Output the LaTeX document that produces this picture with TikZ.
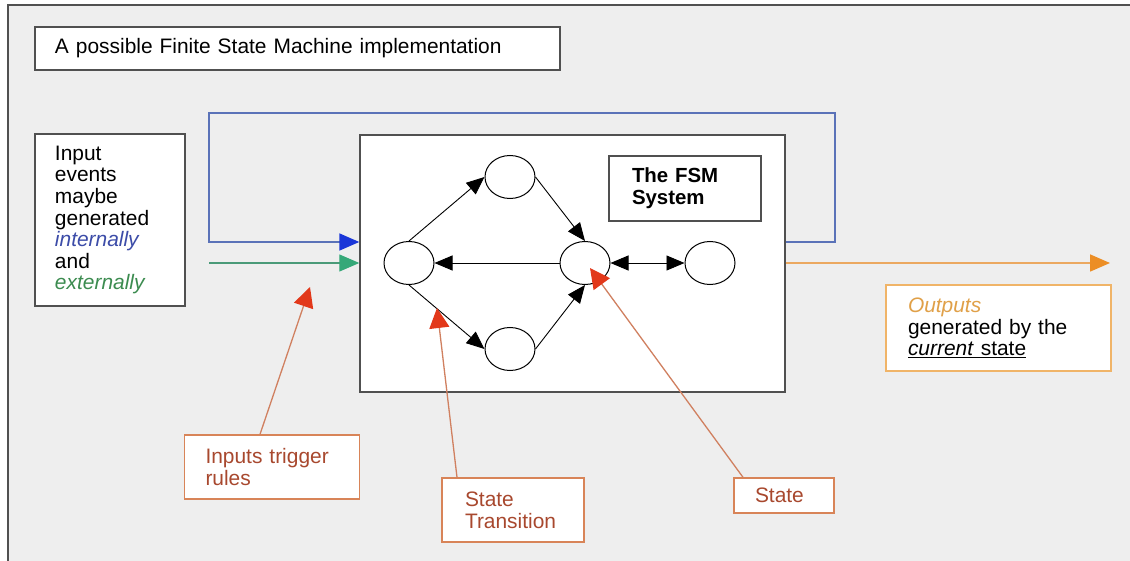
\documentclass[tikz,border=0pt]{standalone}
\usepackage{fontspec}
\setmainfont{Liberation Sans}
\usetikzlibrary{shapes.geometric,arrows.meta,calc}

\definecolor{panel}{HTML}{EEEEEE}
\definecolor{framegray}{HTML}{505050}
\definecolor{blueln}{HTML}{5A72B8}
\definecolor{bluetip}{HTML}{1A36D8}
\definecolor{greenln}{HTML}{4A9A78}
\definecolor{greentip}{HTML}{35A878}
\definecolor{orangeln}{HTML}{EBA860}
\definecolor{orangetip}{HTML}{EC8E25}
\definecolor{redln}{HTML}{D08060}
\definecolor{redtip}{HTML}{E2381A}
\definecolor{redtxt}{HTML}{A8482E}
\definecolor{redbox}{HTML}{D88458}
\definecolor{outbox}{HTML}{F0B468}
\definecolor{outtxt}{HTML}{E0A048}
\definecolor{inblue}{HTML}{3C4CA8}
\definecolor{ingreen}{HTML}{3C8C50}

\tikzset{
  txt/.style={font=\fontsize{21}{21.7}\selectfont},
  graybox/.style={draw=framegray, line width=1.4bp, fill=white, rectangle,
    inner ysep=0pt, align=left, txt},
  notebox/.style={draw=redbox, line width=1.4bp, fill=white, rectangle,
    inner ysep=0pt, align=left, text=redtxt, txt},
  state/.style={ellipse, draw=black, line width=1bp, fill=white,
    minimum width=50bp, minimum height=43bp, inner sep=0pt},
  trans/.style={draw=black, line width=0.9bp,
    -{Triangle[length=18bp,width=15bp]}},
  biarrow/.style={draw=black, line width=0.9bp,
    {Triangle[length=18bp,width=15bp]}-{Triangle[length=18bp,width=15bp]}},
  blueline/.style={draw=blueln, line width=1.6bp,
    -{Triangle[length=20bp,width=17bp,color=bluetip]}},
  greenline/.style={draw=greenln, line width=1.2bp,
    -{Triangle[length=20bp,width=17bp,color=greentip]}},
  orangeline/.style={draw=orangeln, line width=1.6bp,
    -{Triangle[length=20bp,width=17bp,color=orangetip]}},
  pointer/.style={draw=redln, line width=1.3bp,
    -{Triangle[length=20bp,width=20bp,color=redtip]}},
}

\begin{document}
\begin{tikzpicture}[x=1bp,y=-1bp]
  % page and panel
  \fill[white] (0,0) rectangle (1130,561);
  \fill[panel] (8,5) rectangle (1130,561);
  \useasboundingbox (0,0) rectangle (1130,561);
  \draw[framegray, line width=2.6bp] (8,561) -- (8,5) -- (1130,5);

  % heading
  \node[graybox, minimum width=525bp, minimum height=43bp, text width=485bp,
        inner xsep=20bp] (title) at (297.5,48.5)
        {A possible Finite State Machine implementation};

  % input description
  \node[graybox, minimum width=150bp, minimum height=172bp, text width=110bp,
        inner xsep=20bp] (inputs) at (110,220)
        {Input\\ events\\ maybe\\ generated\\
         \textcolor{inblue}{\textit{internally}}\\ and\\
         \textcolor{ingreen}{\textit{externally}}};

  % machine
  \node[graybox, minimum width=425bp, minimum height=257bp] (fsm) at (572.5,263.5) {};
  \node[graybox, minimum width=152bp, minimum height=65bp, text width=106bp,
        inner xsep=23bp, font=\bfseries\fontsize{20.5}{22}\selectfont]
        (fsmlabel) at (685,188.5) {The FSM\\ System};

  % output description
  \node[graybox, draw=outbox, minimum width=225bp, minimum height=86bp,
        text width=181bp, inner xsep=22bp] (outputs) at (998.5,328)
        {\textcolor{outtxt}{\textit{Outputs}}\\ generated by the\\
         \underline{\textit{current} state}};

  % helper positions
  \coordinate (inY) at (0,242);
  \coordinate (exY) at (0,263);
  \coordinate (loopNE) at (835,113);
  \coordinate (loopNW) at (209,113);
  \coordinate (outEnd) at (1110,263);

  % internal feedback loop, external input, output
  \draw[blueline] (fsm.east |- inY) -| (loopNE) -| (loopNW |- inY) -- (fsm.west |- inY);
  \draw[greenline] (loopNW |- exY) -- (fsm.west |- exY);
  \draw[orangeline] (fsm.east |- exY) -- (outEnd);

  % states
  \node[state] (sL) at (409,263) {};
  \node[state] (sT) at (510,177) {};
  \node[state] (sB) at (510,349) {};
  \node[state] (sM) at (585,263) {};
  \node[state] (sR) at (710,263) {};

  % transitions
  \draw[trans] (sL.north) -- (sT.west);
  \draw[trans] (sT.east) -- (sM.north);
  \draw[trans] (sL.south) -- (sB.west);
  \draw[trans] (sB.east) -- (sM.south);
  \draw[trans] (sM.west) -- (sL.east);
  \draw[biarrow] (sM.east) -- (sR.west);

  % annotation notes
  \node[notebox, minimum width=175bp, minimum height=64bp, text width=133bp,
        inner xsep=21bp] (rulesnote) at (272,467) {Inputs trigger\\ rules};
  \node[notebox, minimum width=142bp, minimum height=64bp, text width=96bp,
        inner xsep=23bp] (transnote) at (513,510) {State\\ Transition};
  \node[notebox, minimum width=100bp, minimum height=35bp, text width=58bp,
        inner xsep=21bp] (statenote) at (784,495.5) {State};

  \coordinate (tipRules) at (310,287);
  \coordinate (tipTrans) at (437,308);
  \coordinate (tipState) at (590,268);

  \draw[pointer] ([xshift=-12bp]rulesnote.north) -- (tipRules);
  \draw[pointer] ([xshift=-56bp]transnote.north) -- (tipTrans);
  \draw[pointer] ([xshift=-41bp]statenote.north) -- (tipState);
\end{tikzpicture}
\end{document}
